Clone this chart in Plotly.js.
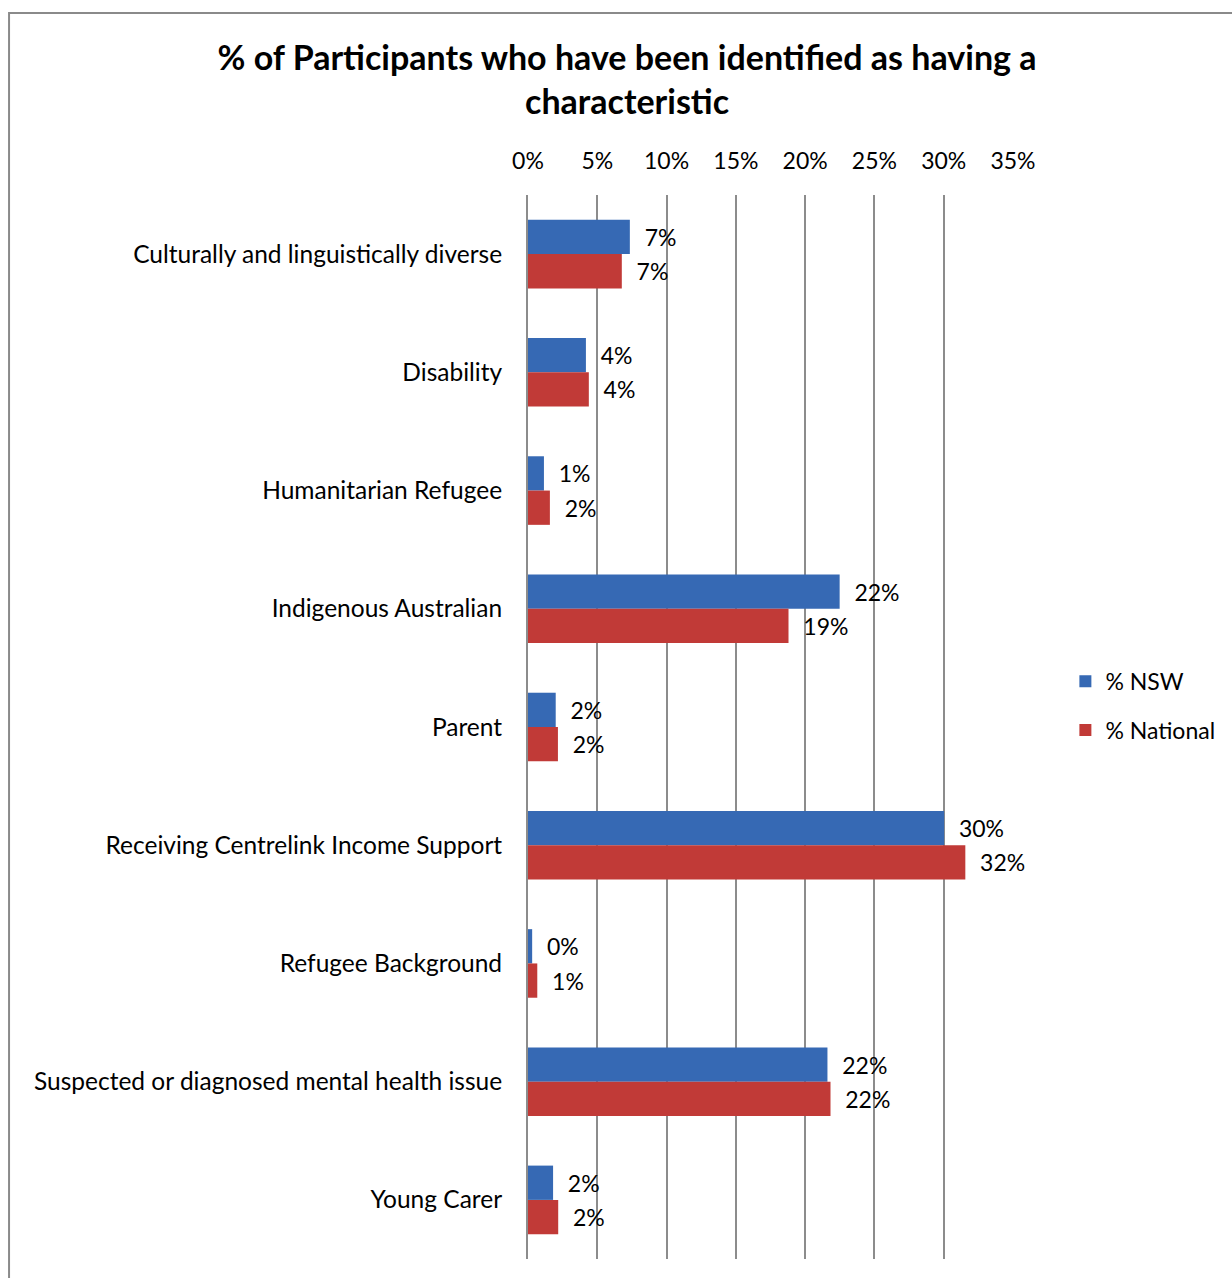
<!DOCTYPE html>
<html>
<head>
<meta charset="utf-8">
<script src="https://cdn.plot.ly/plotly-3.0.1.min.js"></script>
<style>html,body{margin:0;padding:0;background:#fff;}#chart{width:1232px;height:1278px;}</style>
</head>
<body>
<div id="chart"></div>
<script>
var categories = ["Culturally and linguistically diverse","Disability","Humanitarian Refugee","Indigenous Australian","Parent","Receiving Centrelink Income Support","Refugee Background","Suspected or diagnosed mental health issue","Young Carer"];
var nswValues = [0.0735, 0.0418, 0.0115, 0.2249, 0.0200, 0.3003, 0.0030, 0.2161, 0.0181];
var nationalValues = [0.0677, 0.0439, 0.0158, 0.1880, 0.0216, 0.3156, 0.0067, 0.2183, 0.0218];
var seriesNames = ["% NSW", "% National"];
var tickVals = [0, 0.05, 0.10, 0.15, 0.20, 0.25, 0.30, 0.35];
var tickText = ["0%","5%","10%","15%","20%","25%","30%","35%"];

var font = "Lato, 'Open Sans', sans-serif";
var pad = '\u00a0\u00a0';
var traces = [
  {type:'bar', orientation:'h', name:seriesNames[0], legendgroup:'a', y:categories, x:nswValues,
   marker:{color:'#3669b4'}, texttemplate:pad + '%{x:.0%}', textposition:'outside', cliponaxis:false,
   textfont:{size:23, color:'#000', family:font}},
  {type:'bar', orientation:'h', name:seriesNames[1], legendgroup:'b', y:categories, x:nationalValues,
   marker:{color:'#c13a37'}, texttemplate:pad + '%{x:.0%}', textposition:'outside', cliponaxis:false,
   textfont:{size:23, color:'#000', family:font}}
];
var layout = {
  width:1232, height:1278,
  margin:{l:528, r:214, t:195, b:19},
  paper_bgcolor:'#fff', plot_bgcolor:'#fff',
  font:{family:font, size:23, color:'#000'},
  title:{text:'<b>% of Participants who have been identified as having a<br>characteristic</b>',
         font:{size:34, family:font, color:'#000'}, x:0.509, xanchor:'center', y:0.945, yanchor:'top'},
  barmode:'group', bargap:0.42, bargroupgap:0,
  xaxis:{side:'top', range:[0,0.35], tickvals:tickVals, ticktext:tickText, showgrid:true,
         gridcolor:'#8c8c8c', gridwidth:2, zeroline:false, showline:false, ticks:'',
         ticklabelstandoff:20, tickfont:{size:23}, fixedrange:true},
  yaxis:{autorange:'reversed', showgrid:false, showline:true, linecolor:'#8c8c8c', linewidth:2,
         ticks:'', ticklabelstandoff:19, tickfont:{size:24.5}},
  legend:{x:1.108, xanchor:'left', y:0.52, yanchor:'middle', font:{size:23}, traceorder:'grouped',
          tracegroupgap:16, itemwidth:30},
  showlegend:true,
  shapes:[{type:'rect', xref:'paper', yref:'paper', x0:-1.07, x1:1.6, y0:-0.2, y1:1.171,
           line:{color:'#8a8a8a', width:2}, fillcolor:'rgba(0,0,0,0)', layer:'below'}]
};
Plotly.newPlot('chart', traces, layout, {displayModeBar:false, staticPlot:true});
</script>
</body>
</html>
